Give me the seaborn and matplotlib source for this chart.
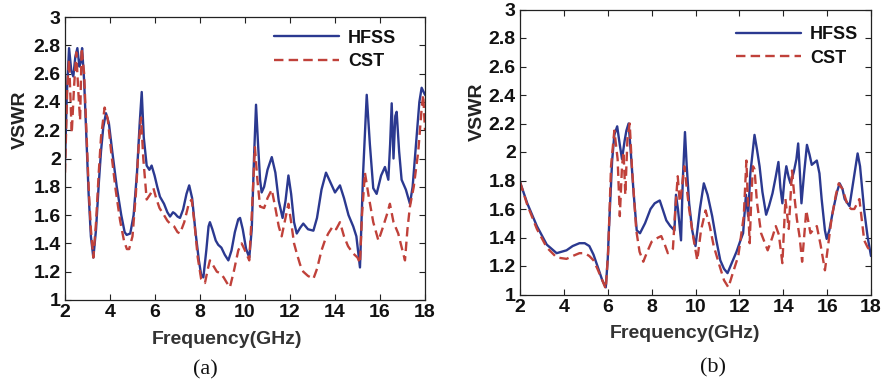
import numpy as np
import pandas as pd
import matplotlib
matplotlib.use("Agg")
import matplotlib.pyplot as plt
import seaborn as sns

# ---------------- data ----------------
a_hfss_f = [2.0, 2.08, 2.18, 2.28, 2.37, 2.46, 2.55, 2.64, 2.7, 2.76, 2.85, 2.95, 3.05, 3.15, 3.26, 3.38, 3.5, 3.6,
            3.7, 3.82, 3.95, 4.1, 4.3, 4.5, 4.65, 4.74, 4.9, 5.05, 5.2, 5.32, 5.41, 5.5, 5.63, 5.75, 5.85, 5.98,
            6.1, 6.22, 6.4, 6.55, 6.67, 6.8, 6.89, 7.0, 7.11, 7.25, 7.4, 7.52, 7.65, 7.8, 7.95, 8.05, 8.15, 8.28,
            8.38, 8.44, 8.55, 8.7, 8.81, 8.95, 9.1, 9.26, 9.4, 9.55, 9.7, 9.78, 9.9, 10.05, 10.19, 10.3, 10.4,
            10.49, 10.58, 10.67, 10.74, 10.85, 11.0, 11.19, 11.35, 11.5, 11.67, 11.8, 11.93, 12.05, 12.18, 12.3,
            12.45, 12.59, 12.8, 13.04, 13.2, 13.4, 13.6, 13.8, 14.0, 14.22, 14.4, 14.6, 14.81, 14.95, 15.11, 15.25,
            15.41, 15.55, 15.7, 15.85, 16.05, 16.22, 16.37, 16.45, 16.52, 16.6, 16.68, 16.74, 16.85, 16.96, 17.15,
            17.33, 17.45, 17.6, 17.75, 17.85, 18.0]
a_hfss_v = [1.97, 2.45, 2.78, 2.62, 2.58, 2.72, 2.78, 2.65, 2.68, 2.78, 2.55, 2.15, 1.75, 1.45, 1.30, 1.5, 1.82, 2.05,
            2.22, 2.32, 2.25, 2.05, 1.8, 1.6, 1.48, 1.46, 1.47, 1.6, 1.9, 2.25, 2.47, 2.15, 1.95, 1.92, 1.95, 1.88,
            1.8, 1.73, 1.68, 1.62, 1.59, 1.62, 1.61, 1.59, 1.58, 1.64, 1.75, 1.81, 1.72, 1.48, 1.28, 1.18, 1.16, 1.35,
            1.52, 1.55, 1.50, 1.42, 1.39, 1.37, 1.32, 1.28, 1.35, 1.48, 1.57, 1.58, 1.5, 1.36, 1.30, 1.5, 2.0,
            2.38, 2.1, 1.85, 1.76, 1.8, 1.92, 2.01, 1.9, 1.7, 1.58, 1.7, 1.88, 1.75, 1.55, 1.47,
            1.51, 1.54, 1.5, 1.49, 1.58, 1.78, 1.90, 1.83, 1.76, 1.81, 1.72, 1.6, 1.52, 1.45, 1.23, 1.9,
            2.45, 2.1, 1.79, 1.75, 1.88, 1.94, 1.85, 2.1, 2.39, 2.0, 2.3, 2.33, 2.05, 1.85, 1.78,
            1.68, 1.8, 2.1, 2.4, 2.5, 2.45]

a_cst_f = [2.0, 2.1, 2.18, 2.3, 2.4, 2.5, 2.6, 2.67, 2.74, 2.85, 2.95, 3.05, 3.15, 3.26, 3.38, 3.5, 3.6, 3.76, 3.9,
           4.05, 4.25, 4.45, 4.62, 4.75, 4.85, 5.0, 5.15, 5.28, 5.38, 5.48, 5.63, 5.8, 5.93, 6.05, 6.2, 6.4, 6.55,
           6.67, 6.85, 7.0, 7.11, 7.3, 7.5, 7.63, 7.75, 7.9, 8.05, 8.22, 8.35, 8.44, 8.6, 8.75, 8.89, 9.05, 9.2,
           9.33, 9.5, 9.7, 9.85, 10.0, 10.19, 10.3, 10.44, 10.55, 10.67, 10.85, 11.0, 11.19, 11.35, 11.5, 11.63,
           11.8, 11.93, 12.05, 12.18, 12.3, 12.45, 12.59, 12.8, 13.04, 13.2, 13.4, 13.55, 13.7, 13.9, 14.05, 14.22,
           14.4, 14.58, 14.8, 15.0, 15.11, 15.2, 15.33, 15.5, 15.7, 15.93, 16.1, 16.3, 16.44, 16.6, 16.81, 16.95,
           17.11, 17.22, 17.33, 17.5, 17.7, 17.85, 17.92, 18.0]
a_cst_v = [1.9, 2.5, 2.7, 2.18, 2.5, 2.75, 2.45, 2.27, 2.78, 2.6, 2.2, 1.8, 1.5, 1.30, 1.55, 1.9, 2.15, 2.36, 2.28,
           2.05, 1.78, 1.56, 1.42, 1.36, 1.36, 1.45, 1.75, 2.1, 2.29, 2.0, 1.71, 1.75, 1.79, 1.72, 1.65, 1.6, 1.56,
           1.54, 1.52, 1.48, 1.47, 1.55, 1.68, 1.71, 1.55, 1.3, 1.15, 1.12, 1.22, 1.28, 1.24, 1.2, 1.19, 1.16, 1.12,
           1.09, 1.2, 1.35, 1.40, 1.35, 1.28, 1.6, 2.08, 1.85, 1.66, 1.65, 1.72, 1.78, 1.65, 1.52, 1.45,
           1.58, 1.68, 1.55, 1.4, 1.33, 1.25, 1.2, 1.17, 1.15, 1.22, 1.35, 1.42, 1.47, 1.52, 1.5, 1.55,
           1.45, 1.38, 1.33, 1.3, 1.26, 1.6, 1.9, 1.73, 1.55, 1.42, 1.5, 1.6, 1.68, 1.55, 1.47, 1.38,
           1.28, 1.5, 1.66, 1.8, 2.05, 2.35, 2.45, 2.2]

b_hfss_f = [2.0, 2.33, 2.77, 3.22, 3.67, 4.12, 4.4, 4.71, 4.95, 5.16, 5.35, 5.53, 5.75, 5.91, 6.0, 6.06, 6.2, 6.3,
            6.43, 6.55, 6.65, 6.77, 6.85, 6.95, 7.05, 7.18, 7.32, 7.47, 7.7, 7.95, 8.14, 8.37, 8.5, 8.67, 8.85,
            9.04, 9.11, 9.2, 9.34, 9.42, 9.52, 9.6, 9.71, 9.85, 10.0, 10.2, 10.38, 10.55, 10.76, 10.95, 11.13,
            11.3, 11.46, 11.65, 11.87, 12.05, 12.17, 12.3, 12.4, 12.5, 12.69, 12.8, 12.92, 13.05, 13.22, 13.35,
            13.51, 13.65, 13.78, 13.87, 13.96, 14.05, 14.14, 14.25, 14.33, 14.48, 14.6, 14.68, 14.76, 14.83, 14.95,
            15.08, 15.2, 15.3, 15.53, 15.65, 15.75, 15.9, 15.98, 16.1, 16.27, 16.45, 16.57, 16.7, 16.8, 17.02,
            17.2, 17.39, 17.5, 17.69, 17.85, 18.0]
b_hfss_v = [1.79, 1.64, 1.48, 1.35, 1.29, 1.31, 1.34, 1.36, 1.36, 1.34, 1.28, 1.2, 1.1, 1.05, 1.25, 1.48, 1.94, 2.12,
            2.18, 2.05, 1.95, 2.08, 2.15, 2.2, 2.0, 1.71, 1.45, 1.43, 1.5, 1.6, 1.64, 1.66, 1.6, 1.52, 1.48,
            1.45, 1.7, 1.6, 1.38, 1.8, 2.14, 1.9, 1.64, 1.45, 1.34, 1.6, 1.78, 1.7, 1.55, 1.38, 1.24,
            1.18, 1.15, 1.22, 1.30, 1.38, 1.43, 1.7, 1.55, 1.85, 2.12, 2.02, 1.9, 1.72, 1.56, 1.62,
            1.71, 1.82, 1.93, 1.75, 1.64, 1.8, 1.90, 1.82, 1.78, 1.86, 1.95, 2.06, 1.85, 1.64, 1.85,
            2.05, 1.98, 1.91, 1.94, 1.85, 1.67, 1.45, 1.39, 1.45, 1.59, 1.72, 1.78, 1.74, 1.67, 1.62,
            1.8, 1.99, 1.9, 1.59, 1.4, 1.27]

b_cst_f = [2.0, 2.33, 2.77, 3.22, 3.67, 4.12, 4.4, 4.71, 4.95, 5.16, 5.35, 5.53, 5.75, 5.91, 6.02, 6.15, 6.3, 6.45,
           6.55, 6.65, 6.72, 6.8, 6.9, 7.0, 7.1, 7.3, 7.45, 7.62, 7.8, 8.0, 8.3, 8.44, 8.6, 8.74, 8.97, 9.08, 9.19,
           9.28, 9.34, 9.49, 9.6, 9.71, 9.9, 10.08, 10.25, 10.46, 10.65, 10.83, 11.1, 11.3, 11.5, 11.7, 11.95,
           12.2, 12.32, 12.4, 12.47, 12.55, 12.62, 12.69, 12.8, 12.99, 13.29, 13.5, 13.66, 13.8, 13.96, 14.1,
           14.25, 14.4, 14.5, 14.62, 14.75, 14.86, 15.05, 15.24, 15.4, 15.53, 15.7, 15.9, 16.05, 16.2, 16.4,
           16.53, 16.7, 16.95, 17.1, 17.24, 17.47, 17.69, 17.85, 18.0]
b_cst_v = [1.79, 1.63, 1.46, 1.33, 1.26, 1.25, 1.27, 1.29, 1.29, 1.27, 1.24, 1.18, 1.1, 1.04, 1.3, 1.9, 2.15, 1.95,
           1.55, 1.9, 2.0, 1.7, 2.1, 2.2, 1.9, 1.45, 1.3, 1.23, 1.3, 1.37, 1.40, 1.41, 1.35, 1.29, 1.32, 1.6, 1.83,
           1.65, 1.7, 1.9, 1.75, 1.6, 1.4, 1.24, 1.45, 1.59, 1.48, 1.34, 1.2, 1.1, 1.05, 1.15, 1.27,
           1.55, 1.94, 1.6, 1.36, 1.7, 1.9, 1.88, 1.65, 1.43, 1.31, 1.4, 1.48, 1.42, 1.22, 1.67,
           1.46, 1.87, 1.7, 1.53, 1.4, 1.23, 1.59, 1.43, 1.46, 1.48, 1.35, 1.17, 1.35, 1.53, 1.7,
           1.78, 1.74, 1.62, 1.6, 1.6, 1.67, 1.38, 1.33, 1.3]

series_names = ["HFSS", "CST"]
x_ticks = [2, 4, 6, 8, 10, 12, 14, 16, 18]
y_ticks = [1, 1.2, 1.4, 1.6, 1.8, 2, 2.2, 2.4, 2.6, 2.8, 3]
y_tick_labels = ["1", "1.2", "1.4", "1.6", "1.8", "2", "2.2", "2.4", "2.6", "2.8", "3"]
panel_labels = ["(a)", "(b)"]
x_label = "Frequency(GHz)"
y_label = "VSWR"

# ---------------- style ----------------
sns.set_theme(style="white")
plt.rcParams["font.family"] = ["Liberation Sans", "DejaVu Sans"]

BLUE = "#2b3990"
RED = "#c0413a"

W, H = 884, 385
fig = plt.figure(figsize=(W / 100, H / 100), dpi=100)

def px_axes(l, t, r, b):
    return fig.add_axes([l / W, 1 - b / H, (r - l) / W, (b - t) / H])

ax_a = px_axes(65, 17, 425, 300)
ax_b = px_axes(520, 9.5, 871, 294.5)

panels = [
    (ax_a, a_hfss_f, a_hfss_v, a_cst_f, a_cst_v, (0.955, 1.0)),
    (ax_b, b_hfss_f, b_hfss_v, b_cst_f, b_cst_v, (1.0, 0.985)),
]

for ax, hf, hv, cf, cv, leg_anchor in panels:
    df_h = pd.DataFrame({"f": hf, "v": hv})
    df_c = pd.DataFrame({"f": cf, "v": cv})
    sns.lineplot(data=df_h, x="f", y="v", ax=ax, color=BLUE, linewidth=1.7,
                 estimator=None, label=series_names[0])
    sns.lineplot(data=df_c, x="f", y="v", ax=ax, color=RED, linewidth=1.7,
                 estimator=None, label=series_names[1], dashes=False, linestyle=(0, (4, 2.2)))
    ax.set_xlim(2, 18)
    ax.set_ylim(1, 3)
    ax.set_xticks(x_ticks)
    ax.set_xticklabels([str(t) for t in x_ticks])
    ax.set_yticks(y_ticks)
    ax.set_yticklabels(y_tick_labels)
    ax.set_xlabel("")
    ax.set_ylabel("")
    for s in ax.spines.values():
        s.set_visible(True)
        s.set_color("#222222")
        s.set_linewidth(0.9)
    ax.tick_params(axis="both", which="major", direction="in", length=4, width=0.8,
                   top=True, right=True, bottom=True, left=True, colors="#222222",
                   labelsize=14, labelcolor="#111111", pad=3)
    for lab in ax.get_xticklabels() + ax.get_yticklabels():
        lab.set_fontweight("bold")
    leg = ax.legend(loc="upper right", bbox_to_anchor=leg_anchor, frameon=False,
                    prop={"size": 13, "weight": "bold"}, handlelength=3.6,
                    handletextpad=0.5, labelspacing=0.35, borderpad=0.2)
    for t in leg.get_texts():
        t.set_color("#111111")

# axis labels and captions
fig.text(227 / W, 1 - 340 / H, x_label, ha="center", va="center", fontsize=14,
         fontweight="bold", color="#333333")
fig.text(685 / W, 1 - 334 / H, x_label, ha="center", va="center", fontsize=14,
         fontweight="bold", color="#333333")
fig.text(20 / W, 1 - 120 / H, y_label, ha="center", va="center", rotation=90, fontsize=14,
         fontweight="bold", color="#222222")
fig.text(477 / W, 1 - 112 / H, y_label, ha="center", va="center", rotation=90, fontsize=14,
         fontweight="bold", color="#222222")
fig.text(205 / W, 1 - 370 / H, panel_labels[0], ha="center", va="center", fontsize=16,
         family="Liberation Serif", color="#111111")
fig.text(713 / W, 1 - 368 / H, panel_labels[1], ha="center", va="center", fontsize=16,
         family="Liberation Serif", color="#111111")

fig.savefig("out.png", dpi=100)
